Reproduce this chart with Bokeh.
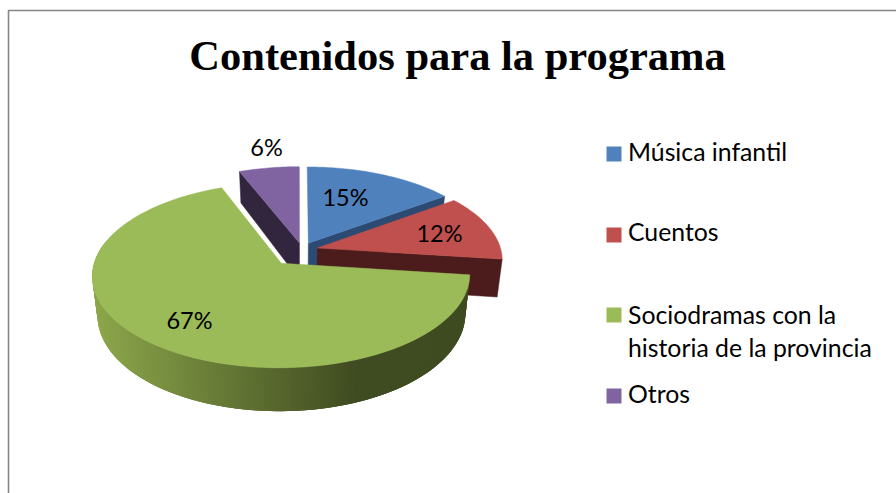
import math
from bokeh.plotting import figure
from bokeh.core.properties import value
from bokeh.embed import file_html
from bokeh.resources import INLINE

title_text = "Contenidos para la programa"
categories = ["Música infantil", "Cuentos", "Sociodramas con la\nhistoria de la provincia", "Otros"]
percentages = [15, 12, 67, 6]
top_colors = ["#4f81bd", "#c0504d", "#9bbb59", "#8064a2"]
wall_colors = ["#2c4a72", "#4c1c1c", "#3f4b20", "#32263f"]

# layout of the 3D projection
CX, CY = 298.0, 252.0
AX, AY, K, R = 188.0, 90.0, 0.13, 0.98
explode_u = [0.053, 0.101, -0.090, 0.005]
explode_v = [-0.104, -0.050, 0.118, -0.108]
label_x = [345, 439, 189, 266]
label_y = [196, 232, 319, 146]
legend_y = [153.5, 234.5, 314.5, 395.5]
legend_text_y = [151, 231, 314, 393]


def project(u, v, floor=False):
    d = 1 - K * v
    x, y = AX * u / d, AY * v / d
    if floor:
        return CX + 0.975 * x, CY + 0.975 * y + 37.5 + 8 * v
    return CX + x, CY + y


def rim(i, deg, floor=False):
    a = math.radians(deg)
    return project(explode_u[i] + R * math.sin(a), explode_v[i] - R * math.cos(a), floor)


def apex(i, floor=False):
    return project(explode_u[i], explode_v[i], floor)


def mix(c1, c2, t):
    t = max(0.0, min(1.0, t))
    return "#" + "".join(f"{round(a + (b - a) * t):02x}" for a, b in zip(c1, c2))


spans = []
acc = 0.0
for val in percentages:
    spans.append((acc * 3.6, (acc + val) * 3.6))
    acc += val

p = figure(width=896, height=493, x_range=(0, 896), y_range=(493, 0),
           toolbar_location=None, output_backend="svg", min_border=0,
           outline_line_color=None, background_fill_color="white", border_fill_color="white")
p.axis.visible = False
p.grid.visible = False

p.line([8, 8, 896], [493, 10, 10], line_color="#868686", line_width=1.6)


def poly(xs, ys, color):
    p.patch(xs, ys, fill_color=color, line_color=color, line_width=0.5)


def cut_wall(i, deg):
    a, af = apex(i), apex(i, True)
    e, ef = rim(i, deg), rim(i, deg, True)
    poly([a[0], e[0], ef[0], af[0]], [a[1], e[1], ef[1], af[1]], wall_colors[i])


def top(i):
    s, t = spans[i]
    n = int(t - s) + 1
    pts = [apex(i)] + [rim(i, s + (t - s) * j / n) for j in range(n + 1)]
    poly([q[0] for q in pts], [q[1] for q in pts], top_colors[i])


# back to front: purple, blue, red, green
cut_wall(3, spans[3][0])
top(3)
cut_wall(0, spans[0][1])
top(0)
cut_wall(1, spans[1][1])
top(1)

# outer wall of the green slice, shaded left to right; each quad overlaps the next
s, t = spans[2]
deg = 285.0
light, dark = (0x8c, 0xa6, 0x4b), (0x3f, 0x4b, 0x20)
while deg > s:
    lo = max(s, deg - 3)
    q1, q2 = rim(2, lo), rim(2, deg)
    q3, q4 = rim(2, deg, True), rim(2, lo, True)
    xm = (q1[0] + q2[0]) / 2
    p.patch([q1[0], q2[0], q3[0], q4[0]], [q1[1], q2[1], q3[1], q4[1]],
            fill_color=mix(light, dark, (xm - 96) / (360 - 96)), line_color=None)
    deg -= 1.0
top(2)

p.text(x=[457], y=[55], text=[title_text], text_font=value("Liberation Serif"),
       text_font_style="bold", text_font_size="42.5px", text_color="black",
       text_align="center", text_baseline="alphabetic")

p.text(x=label_x, y=label_y, text=[f"{v}%" for v in percentages], text_font=value("Lato"),
       text_font_size="23.5px", text_color="black", text_align="center", text_baseline="alphabetic")

p.rect(x=[613.5] * 4, y=legend_y, width=15, height=15, fill_color=top_colors, line_color=None)
for cat, by in zip(categories, legend_text_y):
    for k, line in enumerate(cat.split("\n")):
        p.text(x=[627.5], y=[by + 33 * k], text=[line], text_font=value("Lato"),
               text_font_size="24.8px", text_color="black", text_align="left",
               text_baseline="alphabetic")

open("out.html", "w").write(file_html(p, INLINE))
